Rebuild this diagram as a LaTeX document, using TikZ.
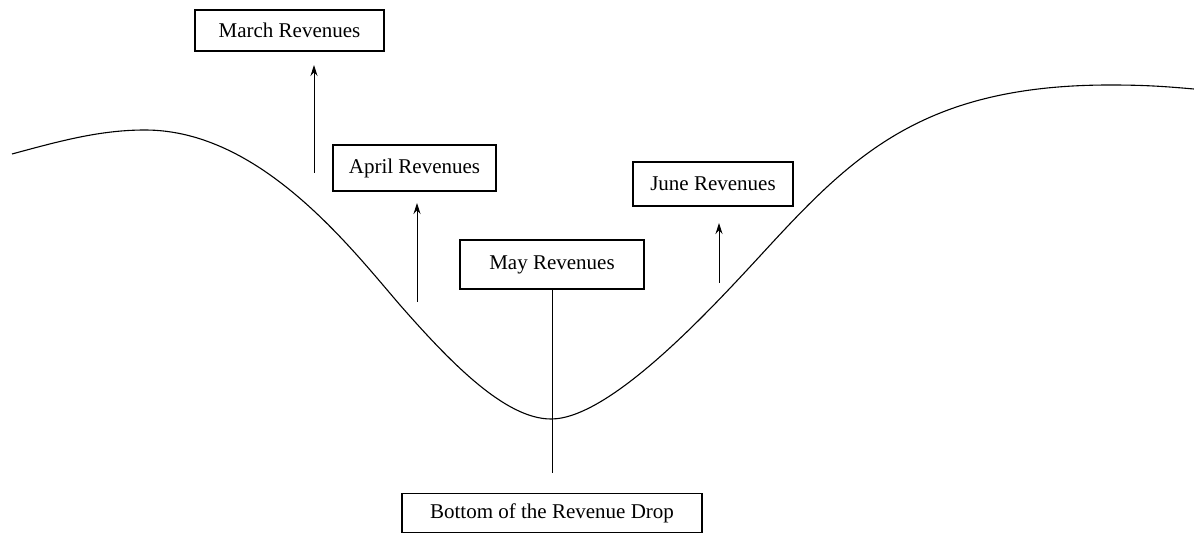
\documentclass[tikz,border=0pt]{standalone}
\usepackage{fontspec}
\setmainfont{Liberation Serif}
\usetikzlibrary{positioning,arrows.meta}

\tikzset{
  revbox/.style={draw=black,line width=1.2pt,fill=white,inner sep=0pt,
    minimum height=42pt,font=\fontsize{21}{24}\selectfont},
  uparrow/.style={black,line width=0.9pt,-{Stealth[length=11pt,width=7pt]}}
}

\begin{document}
\begin{tikzpicture}[x=1pt,y=-1pt]
\useasboundingbox (0,0) rectangle (1194,534);

% the revenue curve
\draw [black,line width=1.1pt] (12,154)
  .. controls (60,141) and (100,130) .. (145,130)
  .. controls (260,130) and (350,247) .. (400,305)
  .. controls (450,362) and (505,419) .. (551,419)
  .. controls (610,419) and (710,310) .. (760,256)
  .. controls (850,158) and (920,85) .. (1110,85)
  .. controls (1150,85) and (1170,87) .. (1194,89);

\node [revbox,minimum width=189pt,minimum height=41pt] (march) at (289.5,30.5) {March Revenues};
\node [revbox,minimum width=163pt,minimum height=46pt] (april) at (414.5,168) {April Revenues};
\node [revbox,minimum width=184pt,minimum height=49pt] (may) at (552,264.5) {May Revenues};
\node [revbox,minimum width=160pt,minimum height=44pt] (june) at (713,184) {June Revenues};
\node [revbox,minimum width=300pt,minimum height=39pt] (bottom) at (552,513) {Bottom of the Revenue Drop};

\coordinate (marchfoot) at (314,173);
\coordinate (marchtip) at (314,65);
\coordinate (aprilfoot) at (417,302);
\coordinate (apriltip) at (417,203);
\coordinate (junefoot) at (719,283);
\coordinate (junetip) at (719,223);
\coordinate (dropend) at (552,473);

\draw [uparrow] (marchfoot)--(marchtip);
\draw [uparrow] (aprilfoot)--(apriltip);
\draw [uparrow] (junefoot)--(junetip);
\draw [black,line width=0.9pt] (may.south)--(dropend);
\end{tikzpicture}
\end{document}
